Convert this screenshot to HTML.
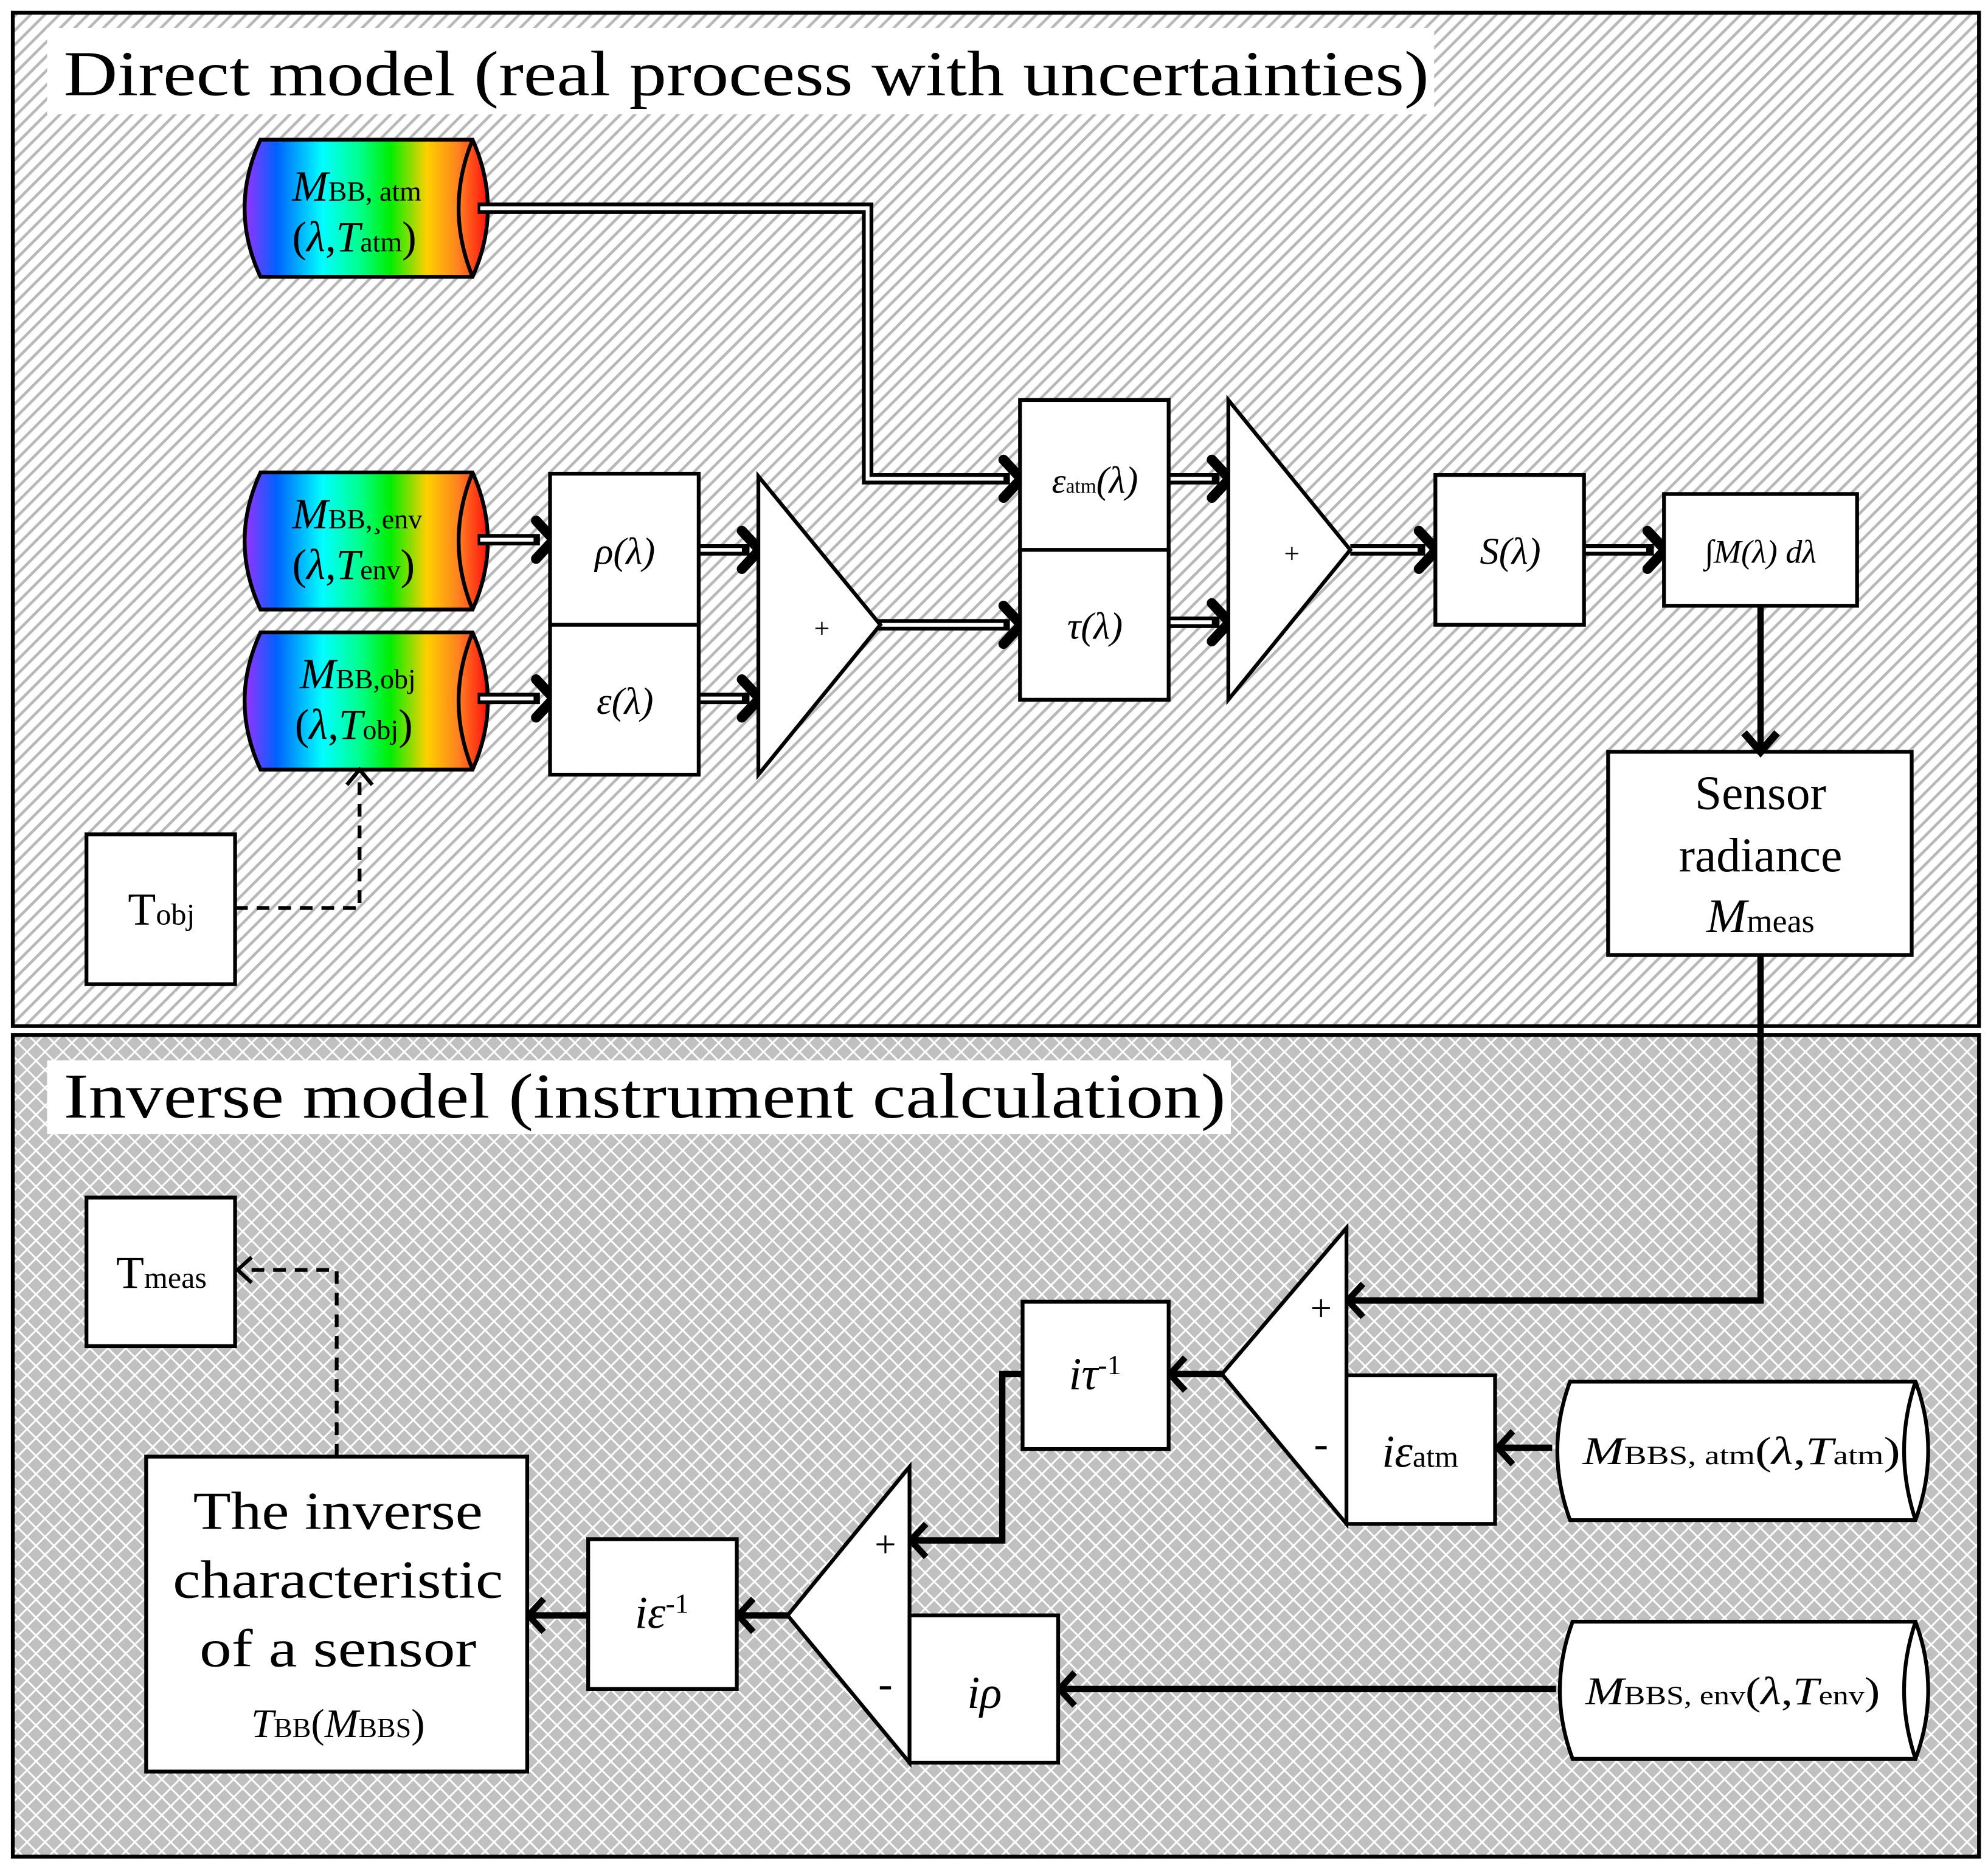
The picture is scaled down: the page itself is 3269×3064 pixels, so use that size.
<!DOCTYPE html>
<html><head><meta charset="utf-8"><style>html,body{margin:0;padding:0;background:#fff}svg{display:block}text{font-family:"Liberation Serif",serif}</style></head>
<body>
<svg xmlns="http://www.w3.org/2000/svg" width="3269" height="3064" viewBox="0 0 1565 1467">
<defs>
<pattern id="hatch" width="8" height="8" patternUnits="userSpaceOnUse" patternTransform="rotate(-45)">
<rect width="8" height="8" fill="#fff"/><rect x="0" y="0" width="8" height="2.2" fill="#b8b8b8"/>
</pattern>
<pattern id="lattice" width="10" height="10" patternUnits="userSpaceOnUse" patternTransform="rotate(45)">
<rect width="10" height="10" fill="#c0c0c0"/><rect x="0" y="0" width="10" height="1.4" fill="#fff"/><rect x="0" y="0" width="1.4" height="10" fill="#fff"/>
</pattern>
<linearGradient id="rain" x1="0" x2="1" y1="0" y2="0">
<stop offset="0" stop-color="#9a30ff"/><stop offset="0.13" stop-color="#0060ff"/><stop offset="0.32" stop-color="#00ffff"/><stop offset="0.47" stop-color="#00ff90"/><stop offset="0.6" stop-color="#00ee00"/><stop offset="0.75" stop-color="#ffd000"/><stop offset="0.88" stop-color="#ff8020"/><stop offset="1" stop-color="#ff1010"/>
</linearGradient>
</defs>

<rect x="10" y="10" width="1548" height="798" fill="url(#hatch)" stroke="#000" stroke-width="3"/>
<rect x="10" y="815" width="1548" height="647" fill="url(#lattice)" stroke="#000" stroke-width="3"/>
<rect x="37" y="22" width="1092" height="68" fill="#fff"/>
<text x="50" y="75" font-size="50" textLength="1075" lengthAdjust="spacingAndGlyphs">Direct model (real process with uncertainties)</text>
<rect x="37" y="835" width="932" height="58" fill="#fff"/>
<text x="50" y="880" font-size="50" textLength="915" lengthAdjust="spacingAndGlyphs">Inverse model (instrument calculation)</text>

<g stroke="#000" stroke-width="3" fill="url(#rain)">
<path d="M205,110 L372,110 Q396,164 372,218 L205,218 Q180,164 205,110 Z"/>
<path d="M372,110 Q350,164 372,218" fill="none"/>
<path d="M205,372 L372,372 Q396,426 372,480 L205,480 Q180,426 205,372 Z"/>
<path d="M372,372 Q350,426 372,480" fill="none"/>
<path d="M205,498 L372,498 Q396,552 372,606 L205,606 Q180,552 205,498 Z"/>
<path d="M372,498 Q350,552 372,606" fill="none"/>
</g>
<g font-size="22">
<text x="230" y="158"><tspan font-style="italic" font-size="34">M</tspan>BB, atm</text>
<text x="230" y="198" font-size="34">(<tspan font-style="italic">λ</tspan>,<tspan font-style="italic">T</tspan><tspan font-size="22">atm</tspan>)</text>
<text x="230" y="416"><tspan font-style="italic" font-size="34">M</tspan>BB,¸env</text>
<text x="230" y="456" font-size="34">(<tspan font-style="italic">λ</tspan>,<tspan font-style="italic">T</tspan><tspan font-size="22">env</tspan>)</text>
<text x="236" y="542"><tspan font-style="italic" font-size="34">M</tspan>BB,obj</text>
<text x="232" y="582" font-size="34">(<tspan font-style="italic">λ</tspan>,<tspan font-style="italic">T</tspan><tspan font-size="22">obj</tspan>)</text>
</g>

<g fill="none" stroke-linejoin="miter">
<g stroke="#000" stroke-width="9">
<path d="M376,164 H683 V377 H795"/>
<path d="M376,425 H425"/><path d="M376,550 H425"/>
<path d="M550,433 H590"/><path d="M550,550 H590"/>
<path d="M690,492 H795"/>
<path d="M920,377 H960"/><path d="M920,490 H960"/>
<path d="M1063,433 H1122"/>
<path d="M1247,433 H1302"/>
</g>
<g stroke="#fff" stroke-width="3">
<path d="M378,164 H683 V377 H790"/>
<path d="M378,425 H420"/><path d="M378,550 H420"/>
<path d="M550,433 H584"/><path d="M550,550 H584"/>
<path d="M692,492 H790"/>
<path d="M920,377 H954"/><path d="M920,490 H954"/>
<path d="M1063,433 H1116"/>
<path d="M1247,433 H1296"/>
</g>
<g stroke="#000" stroke-width="8" stroke-linecap="round" stroke-linejoin="round">
<polyline points="790,362 804,377 790,392"/>
<polyline points="422,410 436,425 422,440"/><polyline points="422,535 436,550 422,565"/>
<polyline points="584,418 598,433 584,448"/><polyline points="584,535 598,550 584,565"/>
<polyline points="790,477 804,492 790,507"/>
<polyline points="954,362 968,377 954,392"/><polyline points="954,475 968,490 954,505"/>
<polyline points="1117,418 1131,433 1117,448"/>
<polyline points="1297,418 1311,433 1297,448"/>
</g>
</g>

<g fill="#fff" stroke="#000" stroke-width="3">
<rect x="433" y="373" width="117" height="119"/><rect x="433" y="492" width="117" height="118"/>
<polygon points="597,375 693,492 597,610"/>
<rect x="803" y="315" width="117" height="118"/><rect x="803" y="433" width="117" height="118"/>
<polygon points="967,315 1063,433 967,551"/>
<rect x="1130" y="374" width="117" height="118"/>
<rect x="1310" y="389" width="152" height="88"/>
<rect x="1266" y="592" width="239" height="160"/>
<rect x="68" y="657" width="117" height="118"/>
</g>
<g font-size="30" font-style="italic" text-anchor="middle">
<text x="492" y="444">ρ(λ)</text>
<text x="492" y="562">ε(λ)</text>
<text x="862" y="388"><tspan font-size="28">ε</tspan><tspan font-size="16" font-style="normal">atm</tspan>(λ)</text>
<text x="862" y="503">τ(λ)</text>
<text x="1189" y="444">S(λ)</text>
<text x="1386" y="443" font-size="26">∫M(λ) dλ</text>
</g>
<text x="647" y="502" font-size="22" text-anchor="middle">+</text>
<text x="1017" y="443" font-size="22" text-anchor="middle">+</text>
<g text-anchor="middle" font-size="38">
<text x="1386" y="637">Sensor</text>
<text x="1386" y="686">radiance</text>
<text x="1386" y="734"><tspan font-style="italic">M</tspan><tspan font-size="26">meas</tspan></text>
</g>
<text x="127" y="728" font-size="36" text-anchor="middle">T<tspan font-size="24">obj</tspan></text>

<g fill="none" stroke="#000">
<path d="M1386,477 V592" stroke-width="5"/>
<polyline points="1373,577 1386,592 1399,577" stroke-width="6"/>
<path d="M185,715 H283 V612" stroke-width="3" stroke-dasharray="10,7"/>
<polyline points="273,618 283,606 293,618" stroke-width="3"/>
</g>

<g fill="none" stroke="#000" stroke-width="5">
<path d="M1386,752 V1024 H1062"/>
<polyline points="1073,1011 1061,1024 1073,1037"/>
<path d="M1222,1140 H1180"/>
<polyline points="1191,1127 1179,1140 1191,1153"/>
<path d="M962,1082 H922"/>
<polyline points="933,1069 921,1082 933,1095"/>
<path d="M805,1082 H789 V1213 H718"/>
<polyline points="729,1200 717,1213 729,1226"/>
<path d="M1225,1330 H835"/>
<polyline points="846,1317 834,1330 846,1343"/>
<path d="M620,1272 H582"/>
<polyline points="593,1259 581,1272 593,1285"/>
<path d="M463,1272 H417"/>
<polyline points="428,1259 416,1272 428,1285"/>
</g>
<g fill="none" stroke="#000" stroke-width="3">
<path d="M265,1147 V1000 H192" stroke-dasharray="10,7"/>
<polyline points="198,990 187,1000 198,1010"/>
</g>

<g fill="#fff" stroke="#000" stroke-width="3">
<polygon points="1060,967 1060,1200 962,1082"/>
<rect x="1060" y="1083" width="117" height="117"/>
<rect x="805" y="1025" width="115" height="116"/>
<polygon points="716,1155 716,1388 620,1272"/>
<rect x="716" y="1272" width="117" height="116"/>
<rect x="463" y="1212" width="117" height="118"/>
<rect x="115" y="1147" width="300" height="248"/>
<rect x="68" y="943" width="117" height="117"/>
<path d="M1236,1088 L1508,1088 Q1528,1142 1508,1197 L1236,1197 Q1216,1142 1236,1088 Z"/>
<path d="M1508,1088 Q1490,1142 1508,1197" fill="none"/>
<path d="M1238,1277 L1508,1277 Q1528,1331 1508,1385 L1238,1385 Q1218,1331 1238,1277 Z"/>
<path d="M1508,1277 Q1490,1331 1508,1385" fill="none"/>
</g>
<text x="1040" y="1040" font-size="30" text-anchor="middle">+</text>
<text x="1040" y="1148" font-size="34" text-anchor="middle">-</text>
<text x="697" y="1226" font-size="30" text-anchor="middle">+</text>
<text x="697" y="1337" font-size="34" text-anchor="middle">-</text>
<g font-size="36">
<text x="1118" y="1155" text-anchor="middle"><tspan font-style="italic">iε</tspan><tspan font-size="24">atm</tspan></text>
<text x="862" y="1094" text-anchor="middle"><tspan font-style="italic">iτ</tspan><tspan font-size="22" dy="-12">-1</tspan></text>
<text x="775" y="1345" text-anchor="middle" font-style="italic">iρ</text>
<text x="521" y="1282" text-anchor="middle"><tspan font-style="italic">iε</tspan><tspan font-size="22" dy="-12">-1</tspan></text>
<text x="127" y="1014" text-anchor="middle">T<tspan font-size="24">meas</tspan></text>
</g>
<g font-size="21">
<text x="1246" y="1153" textLength="250" lengthAdjust="spacingAndGlyphs"><tspan font-style="italic" font-size="31">M</tspan>BBS, atm<tspan font-size="31">(<tspan font-style="italic">λ</tspan>,<tspan font-style="italic">T</tspan></tspan>atm<tspan font-size="31">)</tspan></text>
<text x="1248" y="1342" textLength="232" lengthAdjust="spacingAndGlyphs"><tspan font-style="italic" font-size="31">M</tspan>BBS, env<tspan font-size="31">(<tspan font-style="italic">λ</tspan>,<tspan font-style="italic">T</tspan></tspan>env<tspan font-size="31">)</tspan></text>
</g>
<g text-anchor="middle" font-size="42">
<text x="266" y="1204" textLength="228" lengthAdjust="spacingAndGlyphs">The inverse</text>
<text x="266" y="1258" textLength="260" lengthAdjust="spacingAndGlyphs">characteristic</text>
<text x="266" y="1312" textLength="218" lengthAdjust="spacingAndGlyphs">of a sensor</text>
<text x="266" y="1368" font-size="32"><tspan font-style="italic">T</tspan><tspan font-size="22">BB</tspan>(<tspan font-style="italic">M</tspan><tspan font-size="22">BBS</tspan>)</text>
</g>
</svg>
</body></html>
